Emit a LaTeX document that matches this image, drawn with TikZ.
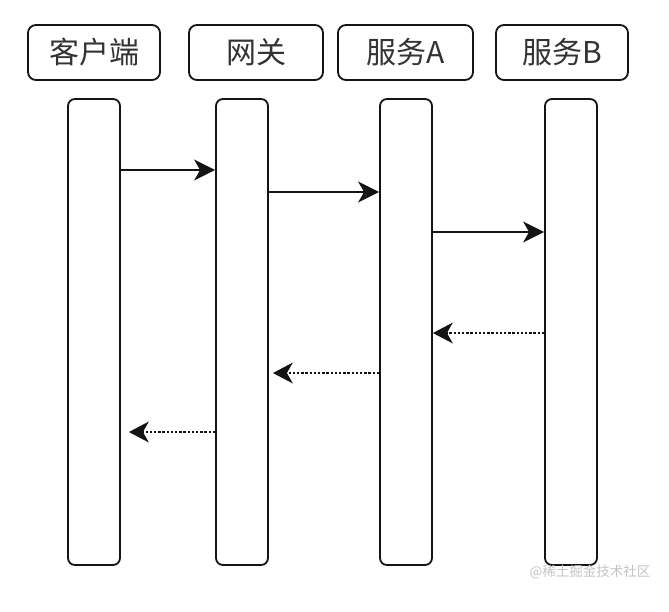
\documentclass[tikz,border=0pt]{standalone}
\usepackage{fontspec}
\newfontfamily\cjk{Noto Sans CJK SC}
\usetikzlibrary{arrows.meta}
\definecolor{edge}{HTML}{141414}
\definecolor{txt}{HTML}{333333}
\definecolor{wm}{HTML}{C4C4C4}
\tikzset{
  header/.style={draw=edge, line width=1.8pt, rounded corners=8pt, minimum width=#1, minimum height=55pt, inner sep=0pt, font=\cjk\fontsize{30}{30}\selectfont, text=txt},
  lifebar/.style={draw=edge, line width=1.8pt, rounded corners=7pt, minimum width=52pt, minimum height=466pt, inner sep=0pt},
  callarrow/.style={draw=edge, line width=1.7pt, -{Stealth[length=21pt, width=21pt, inset=6pt]}},
  retarrow/.style={draw=edge, line width=2.3pt, dash pattern=on 2.4pt off 1.8pt, -{Stealth[length=20pt, width=21pt, inset=6pt, line width=0pt]}}
}
\begin{document}
\begin{tikzpicture}[x=1pt, y=-1pt]
\useasboundingbox (0,0) rectangle (669,611);
\fill[white] (0,0) rectangle (669,611);
% headers
\node[header=132pt] (h1) at (94,52.5) {客户端};
\node[header=134pt] (h2) at (256,52.5) {网关};
\node[header=135pt] (h3) at (405.5,52.5) {服务A};
\node[header=132pt] (h4) at (562,52.5) {服务B};
% lifelines
\node[lifebar] (b1) at (94,332) {};
\node[lifebar] (b2) at (242,332) {};
\node[lifebar] (b3) at (406,332) {};
\node[lifebar] (b4) at (571,332) {};
% calls
\draw[callarrow] (b1.east |- 0,170) -- (b2.west |- 0,170);
\draw[callarrow] (b2.east |- 0,192) -- (b3.west |- 0,192);
\draw[callarrow] (b3.east |- 0,232) -- (b4.west |- 0,232);
% returns
\draw[retarrow] (b4.west |- 0,333) -- (b3.east |- 0,333);
\draw[retarrow, shorten >=4pt] (b3.west |- 0,373) -- (b2.east |- 0,373);
\draw[retarrow, shorten >=8pt] (b2.west |- 0,432) -- (b1.east |- 0,432);
% watermark
\node[text=wm, font=\cjk\fontsize{13.5}{13.5}\selectfont, anchor=center, inner sep=0pt] (wmk) at (590,572) {@稀土掘金技术社区};
\end{tikzpicture}
\end{document}
